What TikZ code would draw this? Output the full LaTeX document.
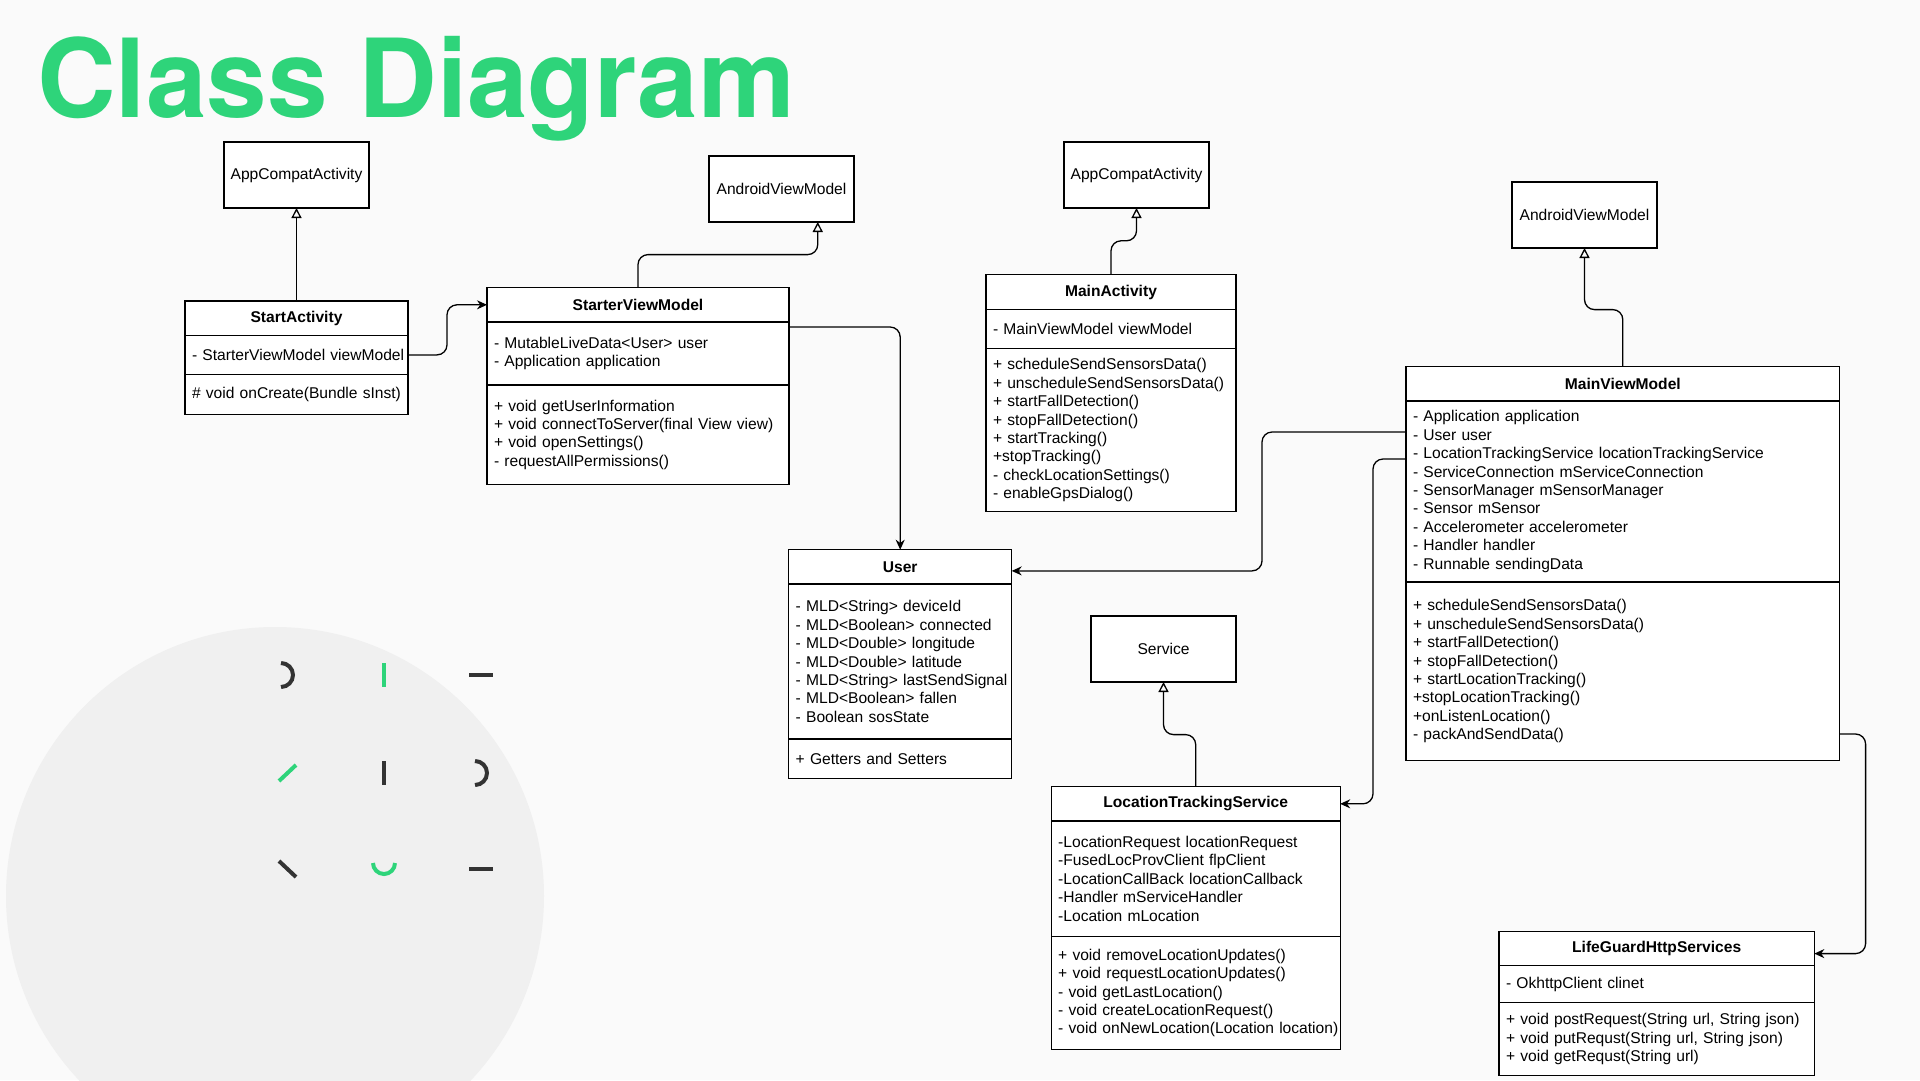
\documentclass[tikz,border=0pt]{standalone}
\usepackage{fontspec}
\setmainfont{Liberation Sans}
\newfontfamily\titlefont{TeX Gyre Heros}
\usetikzlibrary{arrows.meta,calc}
\definecolor{bggray}{HTML}{FAFAFA}
\definecolor{blobgray}{HTML}{F0F0F0}
\definecolor{titlegreen}{HTML}{2ED47A}
\definecolor{decodark}{HTML}{333333}
\tikzset{
  umlbox/.style={draw, line width=1.3pt, fill=white, anchor=north west, outer sep=0pt, inner ysep=0pt, font=\fontsize{15.6}{18.4}\selectfont},
  parent/.style={umlbox, minimum width=145pt, minimum height=66pt},
  classname/.style={umlbox, font=\fontsize{15.6}{18.4}\selectfont\bfseries, minimum height=34.4pt},
  members/.style={umlbox, align=left, inner xsep=7pt},
  inherit/.style={-{Triangle[open, length=10pt, width=10pt]}, line width=1.3pt, rounded corners=10pt},
  assoc/.style={-{Stealth[length=10pt, width=9pt]}, line width=1.3pt, rounded corners=10pt},
  deco/.style={line width=4pt, decodark},
  decogreen/.style={line width=4pt, titlegreen},
}
\begin{document}
\begin{tikzpicture}[x=1pt, y=-1pt]
        \useasboundingbox (0,0) rectangle (1920,1080);
        \fill[bggray] (0,0) rectangle (1920,1080);
        \fill[blobgray] (275,896) circle[radius=269];

        % Title
        \node at (37,117) (title) [anchor=base west, inner sep=0pt, text=titlegreen, font=\titlefont\bfseries\fontsize{109}{109}\selectfont] {Class Diagram};

        % Decorative icons
        \draw[deco] (281,663) arc[start angle=-90, end angle=90, radius=12];
        \draw[decogreen] (384,663) -- (384,687);
        \draw[deco] (469,675) -- (493,675);
        \draw[decogreen] (279,781) -- (296,765);
        \draw[deco] (384,761) -- (384,785);
        \draw[deco] (475,761) arc[start angle=-90, end angle=90, radius=12];
        \draw[deco] (279,861) -- (296,877);
        \draw[decogreen] (373,863) arc[start angle=180, end angle=0, radius=11];
        \draw[deco] (469,869) -- (493,869);

        % Define nodes for the parent classes
        \node at (224,142) (ac1) [parent] {AppCompatActivity};
        \node at (709,156) (avm1) [parent] {AndroidViewModel};
        \node at (1064,142) (ac2) [parent] {AppCompatActivity};
        \node at (1512,182) (avm2) [parent] {AndroidViewModel};
        \node at (1091,616) (service) [parent] {Service};

        % StartActivity
        \node at (185,301) (sa) [classname, minimum width=223pt] {StartActivity};
        \node at (sa.south west) (sa-a) [members, text width=209pt, minimum height=39pt] {\mbox{- StarterViewModel viewModel}};
        \node at (sa-a.south west) (sa-m) [members, text width=209pt, minimum height=40pt] {\# void onCreate(Bundle sInst)};

        % StarterViewModel
        \node at (487,287.6) (svm) [classname, minimum width=302pt] {StarterViewModel};
        \node at (svm.south west) (svm-a) [members, text width=288pt, minimum height=63pt] {- MutableLiveData<User> user\\- Application application};
        \node at (svm-a.south west) (svm-m) [members, text width=288pt, minimum height=99.5pt] {+ void getUserInformation\\+ void connectToServer(final View view)\\+ void openSettings()\\- requestAllPermissions()};

        % MainActivity
        \node at (986,274.8) (ma) [classname, minimum width=250pt] {MainActivity};
        \node at (ma.south west) (ma-a) [members, text width=236pt, minimum height=39.5pt] {- MainViewModel viewModel};
        \node at (ma-a.south west) (ma-m) [members, text width=236pt, minimum height=163pt] {+ scheduleSendSensorsData()\\+ unscheduleSendSensorsData()\\+ startFallDetection()\\+ stopFallDetection()\\+ startTracking()\\+stopTracking()\\- checkLocationSettings()\\- enableGpsDialog()};

        % MainViewModel
        \node at (1406,366.6) (mvm) [classname, minimum width=433.6pt] {MainViewModel};
        \node at (mvm.south west) (mvm-a) [members, text width=419.6pt, minimum height=181pt] {- Application application\\- User user\\- LocationTrackingService locationTrackingService\\- ServiceConnection mServiceConnection\\- SensorManager mSensorManager\\- Sensor mSensor\\- Accelerometer accelerometer\\- Handler handler\\- Runnable sendingData};
        \node at (mvm-a.south west) (mvm-m) [members, text width=419.6pt, minimum height=178.7pt] {+ scheduleSendSensorsData()\\+ unscheduleSendSensorsData()\\+ startFallDetection()\\+ stopFallDetection()\\+ startLocationTracking()\\+stopLocationTracking()\\+onListenLocation()\\- packAndSendData()};

        % User
        \node at (788.7,549.7) (user) [classname, minimum width=223pt] {User};
        \node at (user.south west) (user-a) [members, text width=209pt, minimum height=155pt] {- MLD<String> deviceId\\- MLD<Boolean> connected\\- MLD<Double> longitude\\- MLD<Double> latitude\\\mbox{- MLD<String> lastSendSignal}\\- MLD<Boolean> fallen\\- Boolean sosState};
        \node at (user-a.south west) (user-m) [members, text width=209pt, minimum height=39.6pt] {+ Getters and Setters};

        % LocationTrackingService
        \node at (1051.2,786.6) (lts) [classname, minimum width=289pt] {LocationTrackingService};
        \node at (lts.south west) (lts-a) [members, text width=275pt, minimum height=115.6pt] {-LocationRequest locationRequest\\-FusedLocProvClient flpClient\\-LocationCallBack locationCallback\\-Handler mServiceHandler\\-Location mLocation};
        \node at (lts-a.south west) (lts-m) [members, text width=275pt, minimum height=113pt] {+ void removeLocationUpdates()\\+ void requestLocationUpdates()\\- void getLastLocation()\\- void createLocationRequest()\\\mbox{- void onNewLocation(Location location)}};

        % LifeGuardHttpServices
        \node at (1499,931.4) (lgs) [classname, minimum width=315.3pt] {LifeGuardHttpServices};
        \node at (lgs.south west) (lgs-a) [members, text width=301.3pt, minimum height=37pt] {- OkhttpClient clinet};
        \node at (lgs-a.south west) (lgs-m) [members, text width=301.3pt, minimum height=73pt] {+ void postRequest(String url, String json)\\+ void putRequst(String url, String json)\\+ void getRequst(String url)};

        \coordinate (avm1-in) at ($(avm1.south west)!0.75!(avm1.south east)$);

        % Draw edges
        \draw[inherit] (sa.north) -- (ac1.south);
        \draw[assoc] (sa-a.east) -- ++(39,0) |- (svm.west);
        \draw[inherit] (svm.north) -- ++(0,-33) -| (avm1-in);
        \draw[assoc] ($(svm-a.north east)+(0,5)$) -| (user.north);
        \draw[inherit] (ma.north) -- ++(0,-34) -| (ac2.south);
        \draw[inherit] (mvm.north) -- ++(0,-57) -| (avm2.south);
        \draw[assoc] ($(mvm-a.north west)+(0,31)$) -- ++(-144,0) |- ($(user.east)+(0,4)$);
        \draw[assoc] ($(mvm-a.north west)+(0,58)$) -- ++(-33,0) |- (lts.east);
        \draw[inherit] (lts.north) -- ++(0,-52) -| (service.south);
        \draw[assoc] ($(mvm-m.north east)+(0,152)$) -- ++(26,0) |- ($(lgs.east)+(0,5)$);
    \end{tikzpicture}
\end{document}
